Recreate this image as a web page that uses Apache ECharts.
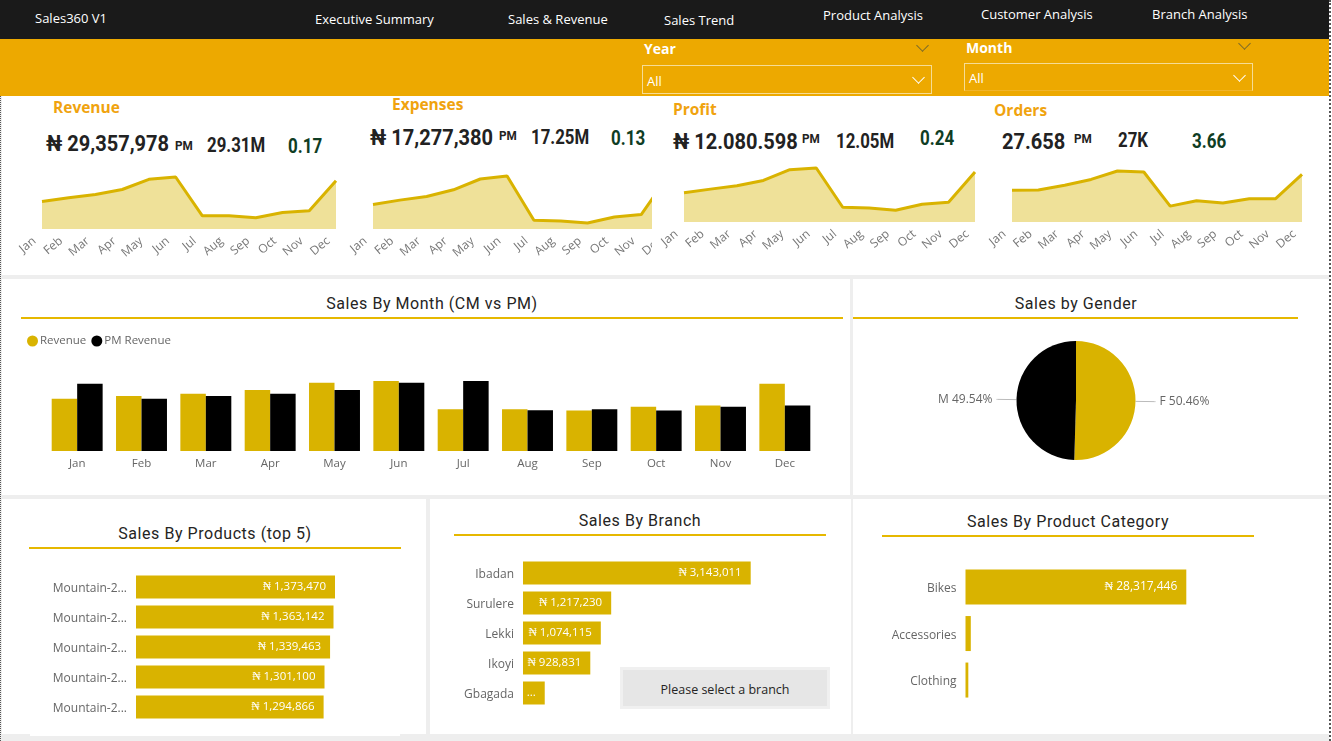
<!DOCTYPE html>
<html>
<head>
<meta charset="utf-8">
<title>Sales360 V1</title>
<script src="https://cdn.jsdelivr.net/npm/echarts@6/dist/echarts.min.js"></script>
<style>
  html, body { margin: 0; padding: 0; background: #fff; overflow: hidden; }
  #page { position: relative; width: 1332px; height: 741px; overflow: hidden; font-family: "Open Sans", sans-serif; }
  .box, .txt, .chart { position: absolute; }
  .txt { white-space: nowrap; transform: translateY(-50%); }
  .mid { transform: translate(-50%, -50%); }
  .head { font-family: Roboto, sans-serif; font-size: 16px; color: #252423; letter-spacing: .55px; }
  .kpi { font-family: Roboto, sans-serif; font-weight: 700; color: #222; transform-origin: left center; }
  .chev { position: absolute; width: 8px; height: 8px; border-right: 1.3px solid; border-bottom: 1.3px solid; transform: rotate(45deg); }
</style>
</head>
<body>
<div id="page"></div>
<script>
const months = ['Jan', 'Feb', 'Mar', 'Apr', 'May', 'Jun', 'Jul', 'Aug', 'Sep', 'Oct', 'Nov', 'Dec']
const revenue = [2378000, 2500000, 2607000, 2774000, 3110000, 3186000, 1905000, 1905000, 1844000, 2012000, 2073000, 3064000]
const pmRevenue = [3064000, 2378000, 2500000, 2607000, 2774000, 3110000, 3186000, 1860000, 1905000, 1844000, 2012000, 2073000]
const expenses = [1395000, 1469000, 1531000, 1644000, 1826000, 1877000, 1128000, 1117000, 1083000, 1185000, 1225000, 1871000]
const profit = [987000, 1035000, 1078000, 1148000, 1288000, 1310000, 799000, 790000, 760000, 838000, 865000, 1257000]
const orders = [2264, 2276, 2449, 2660, 2969, 2932, 1682, 1880, 1793, 1954, 1954, 2846]

const genders = ['F', 'M']
const genderShare = [50.46, 49.54]

const products = ['Mountain-2...', 'Mountain-2...', 'Mountain-2...', 'Mountain-2...', 'Mountain-2...']
const productSales = [1373470, 1363142, 1339463, 1301100, 1294866]

const branches = ['Ibadan', 'Surulere', 'Lekki', 'Ikoyi', 'Gbagada']
const branchSales = [3143011, 1217230, 1074115, 928831, 300000]

const categories = ['Bikes', 'Accessories', 'Clothing']
const categorySales = [28317446, 680000, 360532]

const GOLD = '#D9B300'
const RULE = '#E6B800'
const GRAY = '#666666'
const LABEL_FONT = 'Open Sans'
const page = document.getElementById('page')

function box(x, y, w, h, css) {
    const el = document.createElement('div')
    el.className = 'box'
    el.style.cssText = `left:${x}px;top:${y}px;width:${w}px;height:${h}px;${css || ''}`
    page.appendChild(el)
    return el
}

function text(str, x, y, css, cls) {
    const el = document.createElement('div')
    el.className = 'txt ' + (cls || '')
    el.textContent = str
    el.style.cssText = `left:${x}px;top:${y}px;${css || ''}`
    page.appendChild(el)
    return el
}

function chevron(x, y, color) {
    const el = document.createElement('div')
    el.className = 'chev'
    el.style.cssText = `left:${x}px;top:${y}px;color:${color}`
    page.appendChild(el)
}

function chart(x, y, w, h, option) {
    const el = box(x, y, w, h)
    const c = echarts.init(el)
    c.setOption(Object.assign({ animation: false }, option))
}

// page background and panels
box(0, 0, 1329, 741, 'background:#eeeeee')
box(0, 0, 1329, 39, 'background:#1a1a1a')
box(0, 39, 1329, 57, 'background:#EDA900')
box(2, 96, 1327, 179, 'background:#fff')
box(2, 279, 848, 216, 'background:#fff')
box(853, 279, 476, 216, 'background:#fff')
box(2, 499, 424, 235, 'background:#fff')
box(30, 734, 370, 2, 'background:#fff')
box(430, 499, 421, 235, 'background:#fff')
box(853, 499, 476, 235, 'background:#fff')
box(0, 96, 0, 645, 'border-left:1px dotted #555')
box(1329, 0, 0, 741, 'border-left:2px dotted #555')

// nav
const nav = [['Sales360 V1', 35, 18], ['Executive Summary', 315, 19], ['Sales & Revenue', 508, 19], ['Sales Trend', 664, 20],
    ['Product Analysis', 823, 15], ['Customer Analysis', 981, 14], ['Branch Analysis', 1152, 14]]
nav.forEach(n => text(n[0], n[1], n[2], 'color:#fff;font-size:13px'))

// slicers
text('Year', 644, 48, 'color:#fff;font-size:14px;font-weight:700')
chevron(918, 41, '#7a6a2a')
box(642, 65, 288, 27, 'border:1px solid #f6dc95')
text('All', 647, 81, 'color:#fff;font-size:13px')
chevron(914, 73, '#fff')
text('Month', 966, 47, 'color:#fff;font-size:14px;font-weight:700')
chevron(1240, 39, '#7a6a2a')
box(964, 63, 287, 26, 'border:1px solid #f6dc95;border-bottom-color:#f0b42a')
text('All', 969, 78, 'color:#fff;font-size:13px')
chevron(1235, 71, '#fff')

// kpi cards
const ORANGE = 'color:#F0A30E;font-size:15.5px;font-weight:700'
const GREEN = '#0f3d24'
const cards = [
    ['Revenue', 53, 107, '₦ 29,357,978', 46, 143, 175, 145, '29.31M', 207, 145, '0.17', 288, 146],
    ['Expenses', 392, 104, '₦ 17,277,380', 370, 137, 499, 135, '17.25M', 531, 137, '0.13', 611, 138],
    ['Profit', 673, 109, '₦ 12.080.598', 673, 141, 802, 138, '12.05M', 836, 141, '0.24', 920, 138],
    ['Orders', 994, 110, '27.658', 1002, 141, 1074, 138, '27K', 1118, 140, '3.66', 1192, 141]
]
function kpi(str, x, y, size, squeeze, color) {
    text(str, x, y, `font-size:${size}px;transform:translateY(-50%) scaleX(${squeeze});color:${color || '#222'}`, 'kpi')
}
cards.forEach(c => {
    text(c[0], c[1], c[2], ORANGE)
    kpi(c[3], c[4], c[5], 22.5, 0.89)
    kpi('PM', c[6], c[7], 13, 0.9)
    kpi(c[8], c[9], c[10], 20, 0.84)
    kpi(c[11], c[12], c[13], 20, 0.85, GREEN)
})

// sparkline with a filled area, axis starts above zero like the report
function spark(x, w, gridLeft, gridTop, gridW, gridH, data, min, max) {
    chart(x, 160, w, 115, {
        grid: { left: gridLeft, top: gridTop, width: gridW, height: gridH, outerBoundsMode: 'none' },
        xAxis: {
            type: 'category', data: months, boundaryGap: false,
            axisLine: { show: false }, axisTick: { show: false },
            axisLabel: { interval: 0, rotate: 40, margin: 4, padding: [0, 10, 0, 0], color: '#777', fontSize: 12, fontFamily: LABEL_FONT }
        },
        yAxis: { type: 'value', show: false, min: min, max: max },
        series: [{
            type: 'line', data: data, symbol: 'none', clip: false,
            lineStyle: { color: GOLD, width: 3 },
            areaStyle: { color: '#EFE199', opacity: 1 }
        }]
    })
}
spark(0, 340, 42, 17, 294, 52, revenue, 1470000, 3186000)
spark(340, 312, 33, 16, 295, 53, expenses, 981000, 1877000)
spark(652, 335, 32, 8, 291, 54, profit, 607000, 1310000)
spark(985, 345, 27, 11, 290, 51, orders, 1100, 2969)

// panel titles
const titles = [['Sales By Month (CM vs PM)', 432, 303, 21, 822, 317], ['Sales by Gender', 1076, 303, 853, 445, 317],
    ['Sales By Products (top 5)', 215, 533, 29, 372, 547], ['Sales By Branch', 640, 520, 454, 372, 534],
    ['Sales By Product Category', 1068, 521, 882, 372, 535]]
titles.forEach(t => {
    text(t[0], t[1], t[2], '', 'head mid')
    box(t[3], t[5], t[4], 2, `background:${RULE}`)
})

// sales by month
chart(2, 325, 848, 170, {
    legend: {
        left: 20, top: 5, itemWidth: 11, itemHeight: 11, itemGap: 5, icon: 'circle',
        textStyle: { color: GRAY, fontSize: 11.5, fontFamily: LABEL_FONT, padding: [0, 0, 0, -3] }
    },
    color: [GOLD, '#000000'],
    grid: { left: 43, top: 56, width: 772, height: 70, outerBoundsMode: 'none' },
    xAxis: {
        type: 'category', data: months,
        axisLine: { show: false }, axisTick: { show: false },
        axisLabel: { color: GRAY, fontSize: 11.5, margin: 7, fontFamily: LABEL_FONT }
    },
    yAxis: { type: 'value', show: false, min: 0, max: 3186000 },
    series: [
        { name: 'Revenue', type: 'bar', data: revenue, barGap: 0, barCategoryGap: '20.8%' },
        { name: 'PM Revenue', type: 'bar', data: pmRevenue }
    ]
})

// sales by gender
chart(853, 325, 476, 170, {
    color: [GOLD, '#000000'],
    series: [{
        type: 'pie', center: [223, 75.5], radius: [0, 59.5], startAngle: 90, clockwise: true,
        data: genders.map((g, i) => ({ name: g, value: genderShare[i] })),
        label: {
            formatter: p => `${p.name} ${p.value.toFixed(2)}%`,
            color: GRAY, fontSize: 12, fontFamily: LABEL_FONT, distanceToLabelLine: 4
        },
        labelLine: { length: 19, length2: 1, lineStyle: { color: '#bbb', width: 1 } }
    }]
})

// horizontal bars share a layout, only the numbers differ
function hbar(x, y, w, h, gridLeft, gridTop, gridW, gridH, names, values, barW, fontSize, labelFn) {
    chart(x, y, w, h, {
        grid: { left: gridLeft, top: gridTop, width: gridW, height: gridH, outerBoundsMode: 'none' },
        xAxis: { type: 'value', show: false, min: 0, max: values[0] },
        yAxis: {
            type: 'category', data: names, inverse: true,
            axisLine: { show: false }, axisTick: { show: false },
            axisLabel: {
                interval: 0, margin: 9, formatter: '{a|{value}}',
                rich: { a: { color: GRAY, fontSize: 12, fontFamily: LABEL_FONT, padding: [4, 0, 0, 0] } }
            }
        },
        series: [{
            type: 'bar', data: values, barWidth: barW, itemStyle: { color: GOLD },
            label: {
                show: true, position: 'insideRight', distance: 9, color: '#fff',
                fontSize: fontSize, fontFamily: LABEL_FONT, formatter: labelFn
            }
        }]
    })
}
const naira = p => '₦ ' + p.value.toLocaleString('en-US')

hbar(2, 555, 424, 175, 134, 17, 199, 150, products, productSales, 23, 11.5, naira)
hbar(430, 550, 421, 170, 93, 8, 227.7, 150, branches, branchSales, 23, 11.5,
    p => p.value < 400000 ? '...' : naira(p))
hbar(853, 550, 476, 170, 112.5, 13.8, 220.8, 139.5, categories, categorySales, 35, 12,
    p => p.value < 1000000 ? '' : naira(p))

// branch button
box(620, 667, 204, 36, 'background:#E6E6E6;border:3px solid #f0f0f0')
text('Please select a branch', 725, 689, 'color:#252423;font-size:12.5px', 'mid')
</script>
</body>
</html>
